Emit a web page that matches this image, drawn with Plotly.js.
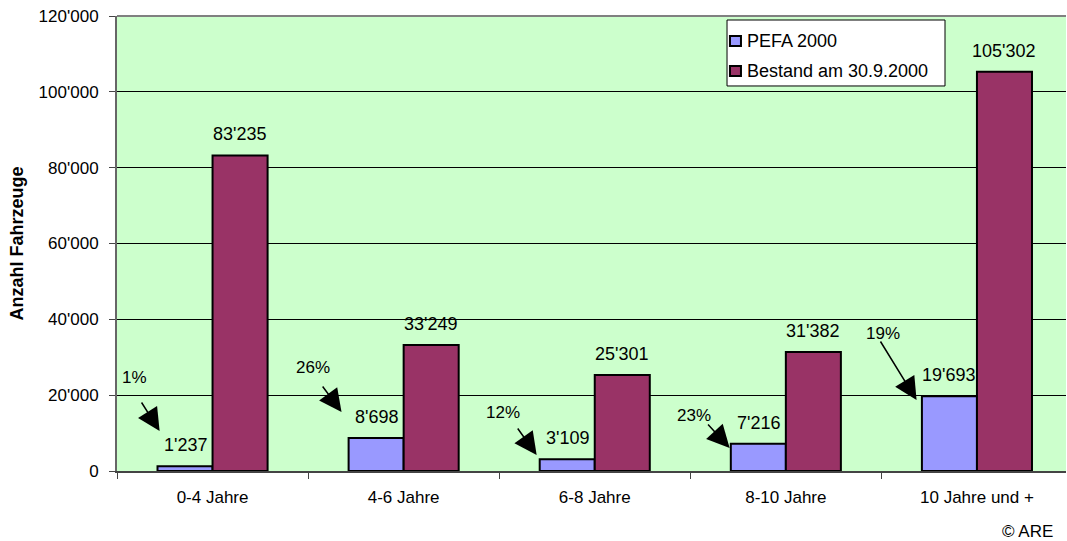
<!DOCTYPE html>
<html>
<head>
<meta charset="utf-8">
<script src="https://cdn.plot.ly/plotly-3.0.1.min.js"></script>
<style>
  html, body { margin: 0; padding: 0; background: #fff; }
  #chart { width: 1067px; height: 541px; }
</style>
</head>
<body>
<div id="chart"></div>
<script>
// ---- data ----
const categories = ["0-4 Jahre", "4-6 Jahre", "6-8 Jahre", "8-10 Jahre", "10 Jahre und +"];
const pefa2000 = [1237, 8698, 3109, 7216, 19693];
const bestand2000 = [83235, 33249, 25301, 31382, 105302];
const shareLabels = ["1%", "26%", "12%", "23%", "19%"];
const yTickValues = [0, 20000, 40000, 60000, 80000, 100000, 120000];
const yTickLabels = ["0", "20'000", "40'000", "60'000", "80'000", "100'000", "120'000"];
const seriesNames = ["PEFA 2000", "Bestand am 30.9.2000"];
const seriesColors = ["#9999FF", "#993366"];

// ---- style / annotation geometry ----
const FONT = "Liberation Sans, Arial, sans-serif";
const FS = 18;
const BARGAP = 0.424;
const half = (1 - BARGAP) / 4;
// arrow heads (axis coords) and tail offsets (px), share label offsets from head (px)
const arrowGeom = [
  {hx: -0.277, hy: 10549, ax: -19, ay: -30, lx: -25, ly: 54},
  {hx: 0.675,  hy: 15560, ax: -20, ay: -27, lx: -29, ly: 45},
  {hx: 1.696,  hy: 4220,  ax: -20, ay: -28, lx: -34, ly: 43},
  {hx: 2.706,  hy: 6066,  ax: -23, ay: -25, lx: -36, ly: 33},
  {hx: 3.684,  hy: 18723, ax: -37, ay: -60, lx: -34, ly: 67}
];
// hand-drawn legend box (paper coords)
const legendBox = {x0: 0.6428, x1: 0.8725, y0: 0.8462, y1: 0.9912};
const legendRows = [0.9451, 0.8791];
const legendSym = {x0: 0.6459, x1: 0.6575, h: 0.0220};
const legendTextX = 0.6618;

function fmt(n) { return String(n).replace(/\B(?=(\d{3})+(?!\d))/g, "'"); }

const traces = [0, 1].map(k => ({
  type: "bar", name: seriesNames[k], x: categories, y: k === 0 ? pefa2000 : bestand2000,
  marker: {color: seriesColors[k], line: {color: "#000", width: 2}},
  hoverinfo: "skip", showlegend: false
}));

const annotations = [];
categories.forEach((c, i) => {
  annotations.push({
    xref: "x", yref: "y", x: i - half, y: pefa2000[i], text: fmt(pefa2000[i]),
    showarrow: false, yanchor: "middle", xanchor: "center", yshift: 21,
    font: {family: FONT, size: FS, color: "#000"}
  });
  annotations.push({
    xref: "x", yref: "y", x: i + half, y: bestand2000[i], text: fmt(bestand2000[i]),
    showarrow: false, yanchor: "middle", xanchor: "center", yshift: 21,
    font: {family: FONT, size: FS, color: "#000"}
  });
  const g = arrowGeom[i];
  annotations.push({
    xref: "x", yref: "y", x: g.hx, y: g.hy, text: "", showarrow: true,
    ax: g.ax, ay: g.ay, arrowhead: 2, arrowsize: 3.0, arrowwidth: 1.5, arrowcolor: "#000",
    standoff: 0, startstandoff: 0
  });
  annotations.push({
    xref: "x", yref: "y", x: g.hx, y: g.hy, text: shareLabels[i], showarrow: false,
    xshift: g.lx, yshift: g.ly, xanchor: "center", yanchor: "middle",
    font: {family: FONT, size: FS - 1, color: "#000"}
  });
});
annotations.push({
  xref: "paper", yref: "paper", x: 0.959, y: -0.134, text: "© ARE", showarrow: false,
  xanchor: "center", yanchor: "middle", font: {family: FONT, size: FS - 1, color: "#000"}
});

const shapes = [
  {type: "line", xref: "paper", yref: "paper", x0: 0, x1: 1, y0: 1, y1: 1,
   line: {color: "#808080", width: 2}},
  {type: "rect", xref: "paper", yref: "paper", x0: legendBox.x0, x1: legendBox.x1,
   y0: legendBox.y0, y1: legendBox.y1, fillcolor: "#FFFFFF", line: {color: "#000", width: 1}}
];
seriesNames.forEach((n, k) => {
  shapes.push({
    type: "rect", xref: "paper", yref: "paper",
    x0: legendSym.x0, x1: legendSym.x1,
    y0: legendRows[k] - legendSym.h / 2, y1: legendRows[k] + legendSym.h / 2,
    fillcolor: seriesColors[k], line: {color: "#000", width: 2}
  });
  annotations.push({
    xref: "paper", yref: "paper", x: legendTextX, y: legendRows[k], text: n,
    showarrow: false, xanchor: "left", yanchor: "middle",
    font: {family: FONT, size: FS, color: "#000"}
  });
});

const layout = {
  width: 1067, height: 541,
  margin: {l: 117, r: 1, t: 16, b: 70, pad: 0},
  paper_bgcolor: "#FFFFFF",
  plot_bgcolor: "#CCFFCC",
  font: {family: FONT, size: FS, color: "#000"},
  barmode: "group", bargap: BARGAP, bargroupgap: 0,
  showlegend: false,
  xaxis: {
    type: "category", range: [-0.5, 4.466], fixedrange: true,
    showgrid: false, zeroline: false,
    showline: true, linecolor: "#444", linewidth: 1.5,
    ticks: "outside", tickson: "boundaries", ticklen: 6, tickcolor: "#444", tickwidth: 1,
    ticklabelstandoff: 10,
    tickfont: {family: FONT, size: FS - 1, color: "#000"}
  },
  yaxis: {
    range: [0, 120000], fixedrange: true,
    tickvals: yTickValues, ticktext: yTickLabels,
    showgrid: true, gridcolor: "#000", gridwidth: 1, zeroline: false,
    showline: true, linecolor: "#666", linewidth: 2,
    ticks: "outside", ticklen: 6, tickcolor: "#444", tickwidth: 1,
    ticklabelstandoff: 7,
    tickfont: {family: FONT, size: FS - 1, color: "#000"},
    title: {text: "<b>Anzahl Fahrzeuge</b>", standoff: 10,
            font: {family: FONT, size: FS, color: "#000"}}
  },
  shapes: shapes,
  annotations: annotations
};

Plotly.newPlot("chart", traces, layout, {displayModeBar: false, staticPlot: true});
</script>
</body>
</html>
